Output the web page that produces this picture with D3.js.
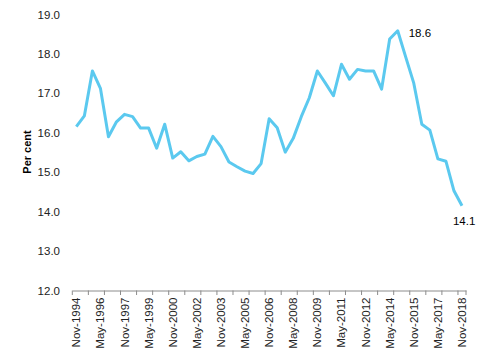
<!DOCTYPE html>
<html>
<head>
<meta charset="utf-8">
<script src="https://cdn.jsdelivr.net/npm/d3@7"></script>
<style>
html,body{margin:0;padding:0;background:#fff;}
svg{display:block;}
text{font-family:"Liberation Sans",Arial,sans-serif;fill:#000;}
</style>
</head>
<body>
<svg id="chart" width="480" height="356"></svg>
<script>
const categories = [
 "Nov-1994","May-1995","Nov-1995","May-1996","Nov-1996","May-1997","Nov-1997","May-1998","Nov-1998","May-1999",
 "Nov-1999","May-2000","Nov-2000","May-2001","Nov-2001","May-2002","Nov-2002","May-2003","Nov-2003","May-2004",
 "Nov-2004","May-2005","Nov-2005","May-2006","Nov-2006","May-2007","Nov-2007","May-2008","Nov-2008","May-2009",
 "Nov-2009","May-2010","Nov-2010","May-2011","Nov-2011","May-2012","Nov-2012","May-2013","Nov-2013","May-2014",
 "Nov-2014","May-2015","Nov-2015","May-2016","Nov-2016","May-2017","Nov-2017","May-2018","Nov-2018"
];
const values = [
 16.16,16.43,17.57,17.13,15.90,16.28,16.47,16.41,16.12,16.12,
 15.61,16.22,15.36,15.52,15.29,15.40,15.46,15.91,15.65,15.26,
 15.14,15.03,14.97,15.22,16.36,16.13,15.51,15.86,16.41,16.89,
 17.57,17.26,16.94,17.74,17.36,17.61,17.57,17.57,17.11,18.38,
 18.59,17.92,17.26,16.22,16.07,15.34,15.28,14.53,14.15
];
const yTicks = [12,13,14,15,16,17,18,19];
const yTitle = "Per cent";
const annotations = [
 {cat:"Nov-2014", text:"18.6"},
 {cat:"Nov-2018", text:"14.1"}
];

const svg = d3.select("#chart");
const x = d3.scaleBand().domain(categories).range([72.3, 466]).padding(0);
const y = d3.scaleLinear().domain([12,19]).range([290.5, 14.6]);
const cx = c => x(c) + x.bandwidth()/2;

// Y tick labels (no axis line)
svg.append("g").selectAll("text").data(yTicks).join("text")
  .attr("x", 60).attr("y", d => y(d)).attr("dy", "0.35em")
  .attr("text-anchor", "end").style("font-size", "11.5px").style("fill", "#222")
  .text(d => d.toFixed(1));

// Y title
svg.append("text")
  .attr("transform", "translate(31,152) rotate(-90)")
  .attr("text-anchor", "middle").style("font-size", "11px").style("font-weight", "bold")
  .text(yTitle);

// X axis
const labelCats = categories.filter((c,i) => i % 3 === 0);
const xAxis = d3.axisBottom(x).tickValues(labelCats).tickSize(0).tickSizeOuter(0).tickPadding(0);
const gx = svg.append("g").attr("transform", "translate(0,290.5)").call(xAxis);
gx.select(".domain").attr("stroke", "#8c8c8c").attr("stroke-width", 1);
gx.selectAll(".tick text")
  .attr("transform", "rotate(-90)")
  .attr("x", -7).attr("y", 0).attr("dy", "0.35em")
  .attr("text-anchor", "end").style("font-size", "11.5px").style("font-family", "Liberation Sans, Arial, sans-serif").style("fill", "#222");

// Tick marks at category boundaries, every second category
const tickPos = categories.filter((c,i) => i % 2 === 0).map(c => x(c));
tickPos.push(x.range()[1]);
svg.append("g").selectAll("line").data(tickPos).join("line")
  .attr("x1", d => d).attr("x2", d => d)
  .attr("y1", 290.5).attr("y2", 295)
  .attr("stroke", "#8c8c8c").attr("stroke-width", 1);

// Line
const line = d3.line().x((d,i) => cx(categories[i])).y(d => y(d));
svg.append("path").datum(values)
  .attr("d", line).attr("fill", "none")
  .attr("stroke", "#5BC9EF").attr("stroke-width", 3)
  .attr("stroke-linejoin", "round").attr("stroke-linecap", "butt");

// Annotations
const ann = svg.append("g");
ann.append("text").attr("x", cx(annotations[0].cat) + 11).attr("y", y(values[categories.indexOf(annotations[0].cat)]) + 6)
  .style("font-size", "11.5px").text(annotations[0].text);
ann.append("text").attr("x", cx(annotations[1].cat) - 9).attr("y", y(values[categories.indexOf(annotations[1].cat)]) + 19)
  .style("font-size", "11.5px").text(annotations[1].text);
</script>
</body>
</html>
